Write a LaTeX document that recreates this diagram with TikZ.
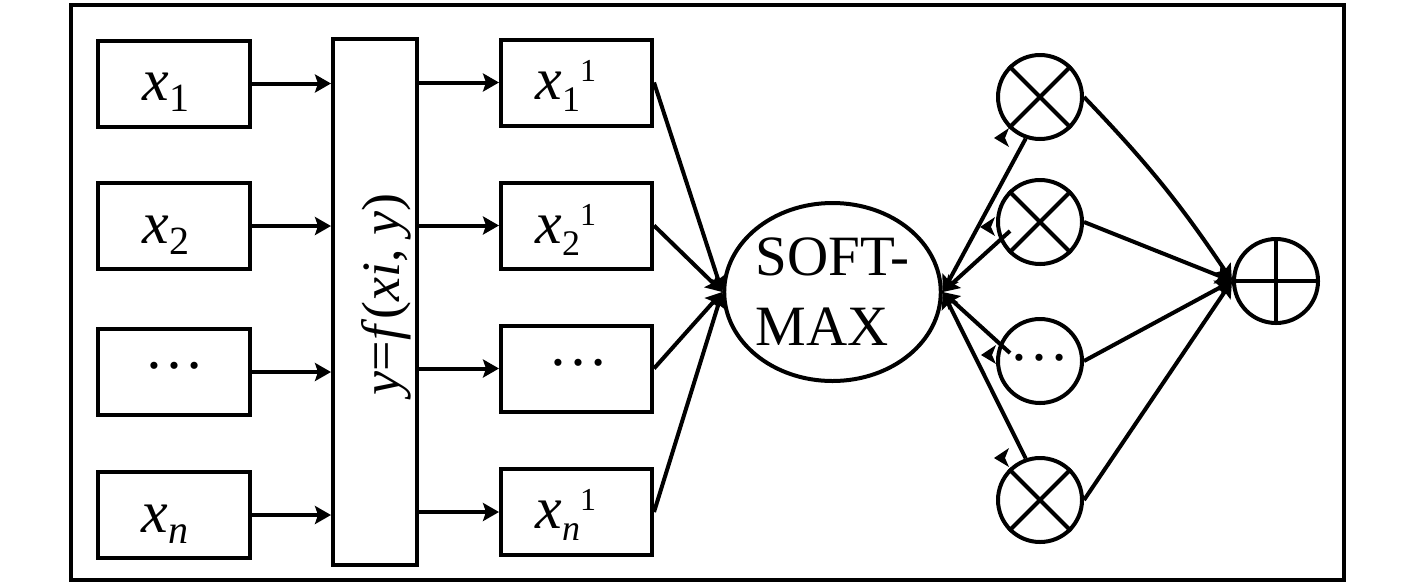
\documentclass[tikz,border=0pt]{standalone}
\usepackage{fontspec}
\setmainfont{Liberation Serif}
\usetikzlibrary{arrows.meta,calc,shapes.geometric}
\newcommand{\mylabA}[1]{\textit{x}\raisebox{-5.5pt}{\fontsize{20pt}{20pt}\selectfont #1}}
\newcommand{\mylabB}[1]{\textit{x}\raisebox{-6pt}{\fontsize{18pt}{18pt}\selectfont #1}\raisebox{9pt}{\fontsize{16pt}{16pt}\selectfont 1}}
\begin{document}
\begin{tikzpicture}[x=0.5pt,y=-0.5pt,
  lw/.style={line width=2pt},
  arr/.style={lw,-{Stealth[length=8pt,width=9pt,inset=1.5pt]}},
  lbox/.style={draw,lw,inner sep=0pt,minimum width=76pt,minimum height=43pt},
  rbox/.style={draw,lw,inner sep=0pt,minimum width=75.5pt,minimum height=43pt},
  mult/.style={draw,lw,circle,inner sep=0pt,minimum size=42pt},
  lab/.style={inner sep=0pt,anchor=base west,font=\fontsize{30pt}{36pt}\selectfont},
  dotlab/.style={inner sep=0pt,anchor=base,font=\fontsize{30pt}{36pt}\selectfont},
  tipmark/.style={fill=black}
]
\useasboundingbox (0,0) rectangle (1417,585);
\draw[line width=2pt] (71,5) rectangle (1344,580);

% input boxes
\node[lbox] (l1) at (174,83.5) {};
\node[lbox] (l2) at (174,226) {};
\node[lbox] (l3) at (174,372) {};
\node[lbox] (l4) at (174,515) {};
\node[lab] (t1) at (142,100) {\mylabA{1}};
\node[lab] (t2) at (142,243) {\mylabA{2}};
\node[dotlab] (t3) at (174,368) {…};
\node[lab] (t4) at (141,532) {\mylabA{\textit{n}}};

% function box
\node[draw,lw,inner sep=0pt,minimum width=42pt,minimum height=263pt] (f) at (375,302) {};
\node[inner sep=0pt,rotate=90,anchor=base,font=\fontsize{27pt}{32pt}\selectfont] (ft) at (399,294.5) {\textit{y}=\textit{f}(\textit{xi}, \textit{y})};

% output boxes
\node[rbox] (r1) at (576.5,82.5) {};
\node[rbox] (r2) at (576.5,225.5) {};
\node[rbox] (r3) at (576.5,368.5) {};
\node[rbox] (r4) at (576.5,512) {};
\node[lab] (s1) at (535,99) {\mylabB{1}};
\node[lab] (s2) at (535,243) {\mylabB{2}};
\node[dotlab] (s3) at (578,365) {…};
\node[lab] (s4) at (535,528) {\mylabB{\textit{n}}};

% softmax
\node[draw,lw,ellipse,inner sep=0pt,minimum width=95.5pt,minimum height=89pt,align=left,font=\fontsize{28.5pt}{35pt}\selectfont] (sm) at (832.5,292) {SOFT-\\MAX};

% multiplier circles
\node[mult] (c1) at (1040,97) {};
\node[mult] (c2) at (1040,222) {};
\node[mult] (c3) at (1040,361) {};
\node[mult] (c4) at (1040,500) {};
\node[dotlab] (d3) at (1039,360) {…};
\foreach \c in {c1,c2,c4}{
  \draw[lw] (\c.45) -- (\c.225) (\c.135) -- (\c.315);
}
% adder
\node[mult] (p) at (1276,281) {};
\draw[lw] (p.north) -- (p.south) (p.west) -- (p.east);

% connectors
\foreach \i in {1,2,3,4}{
  \draw[arr] (l\i.east) -- (l\i.east -| f.west);
  \draw[arr] (f.east |- r\i.west) -- (r\i.west);
  \draw[arr] (r\i.east) -- (sm.west);
}
\coordinate (e2) at ($(c2.center)+(-30,9)$);
\coordinate (e3) at ($(c3.center)+(-30,-8)$);
\draw[arr] (c1.251) -- (sm.east);
\draw[arr] (e2) -- (sm.east);
\draw[arr] (e3) -- (sm.east);
\draw[arr] (c4.109) -- (sm.east);

\draw[arr] (c1.east) to[bend left=5] (p.west);
\draw[arr] (c2.east) -- (p.west);
\draw[arr] (c3.east) -- (p.west);
\draw[arr] (c4.east) -- (p.west);

% small arrow marks near the circles
\fill[tipmark] ($(c1.center)+(-46,41)$) -- ++(15,-10) -- ++(-4,10) -- ++(4,9) -- cycle;
\fill[tipmark] ($(c2.center)+(-60,5)$) -- ++(15,-10) -- ++(-4,10) -- ++(4,9) -- cycle;
\fill[tipmark] ($(c3.center)+(-59,-6)$) -- ++(15,-10) -- ++(-4,10) -- ++(4,9) -- cycle;
\fill[tipmark] ($(c4.center)+(-46,-42)$) -- ++(15,-10) -- ++(-4,10) -- ++(4,9) -- cycle;
\end{tikzpicture}
\end{document}
